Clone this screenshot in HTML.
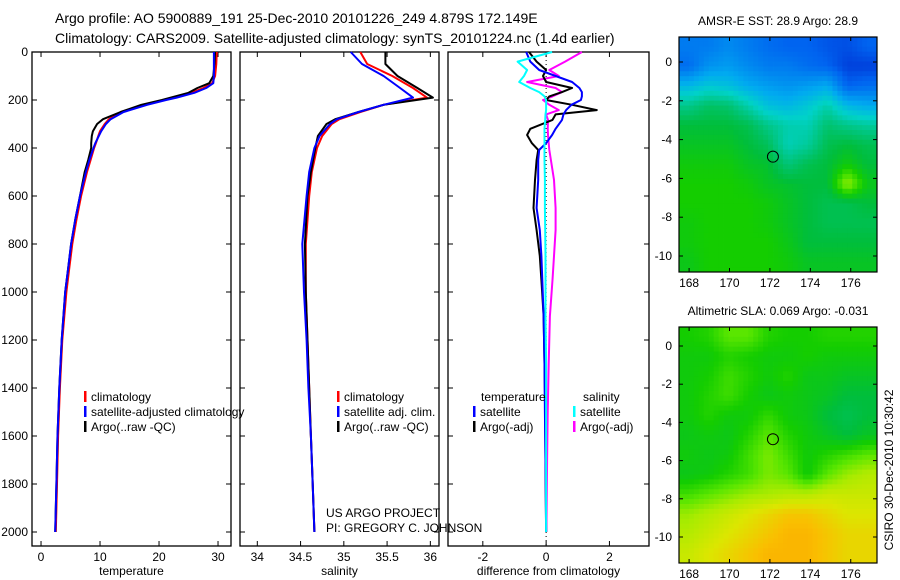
<!DOCTYPE html>
<html><head><meta charset="utf-8"><style>
body{margin:0;background:#fff}
svg{display:block;font-family:"Liberation Sans",sans-serif}
text{fill:#000}
</style></head><body>
<svg id="c" width="900" height="580" viewBox="0 0 900 580">
<text x="55" y="23" font-size="14">Argo profile: AO 5900889_191 25-Dec-2010 20101226_249 4.879S 172.149E</text>
<text x="55" y="43" font-size="14">Climatology: CARS2009. Satellite-adjusted climatology: synTS_20101224.nc (1.4d earlier)</text>
<text transform="translate(893,470) rotate(-90)" text-anchor="middle" font-size="12">CSIRO 30-Dec-2010 10:30:42</text>
<text x="326" y="517" font-size="12">US ARGO PROJECT</text>
<text x="326" y="532" font-size="12">PI: GREGORY C. JOHNSON</text>
</svg>
<script>
// depth levels
const depthT=[0,50,100,130,150,170,190,200,220,250,280,300,330,350,380,400,450,500,600,700,800,900,1000,1200,1400,1600,1800,2000];
const tempClim=[29.8,29.7,29.5,29.0,27.5,25.5,22.5,20.8,17.5,13.5,11.5,10.8,10.0,9.7,9.3,9.0,8.4,7.8,6.8,6.0,5.3,4.8,4.3,3.6,3.2,2.9,2.7,2.5];
const tempSat=[29.3,29.3,29.3,29.2,28.0,26.0,23.0,21.2,18.0,14.0,11.8,11.0,10.2,9.8,9.2,8.9,8.2,7.6,6.6,5.8,5.1,4.6,4.1,3.5,3.1,2.8,2.6,2.4];
const tempArgo=[29.5,29.4,29.2,28.5,26.5,25.0,22.0,20.5,17.0,13.5,10.5,9.5,8.8,8.6,8.5,8.5,8.0,7.4,6.6,5.8,5.1,4.6,4.1,3.5,3.1,2.8,2.6,2.4];
const depthS=[0,50,100,150,190,220,250,280,300,350,400,500,600,800,1000,1200,1400,1600,1800,2000];
const salClim=[35.19,35.27,35.56,35.8,35.96,35.46,35.19,34.95,34.86,34.75,34.69,34.63,34.6,34.56,34.56,34.58,34.6,34.62,34.64,34.66];
const salSat=[35.08,35.21,35.46,35.65,35.8,35.46,35.17,34.92,34.84,34.72,34.66,34.6,34.57,34.52,34.54,34.57,34.59,34.62,34.64,34.66];
const salArgo=[35.48,35.48,35.62,35.85,36.03,35.46,35.17,34.9,34.8,34.7,34.67,34.62,34.58,34.55,34.56,34.58,34.6,34.62,34.64,34.66];
const depthD=[0,40,75,100,125,150,167,185,200,220,242,260,283,320,346,380,408,450,533,650,742,850,950,1100,1300,1500,1700,2000];
const diffTSat=[-0.63,-0.5,-0.22,0.3,0.82,1.05,1.13,1.13,1.1,0.8,0.63,0.55,0.5,0.3,0.19,0.0,-0.22,-0.25,-0.25,-0.3,-0.2,-0.15,-0.12,-0.08,-0.05,-0.04,-0.02,0];
const diffTArgo=[-0.54,-0.3,0.0,-0.1,0.0,0.82,0.5,0.1,0.0,0.82,1.6,0.3,0.2,-0.5,-0.6,-0.45,-0.25,-0.3,-0.35,-0.4,-0.3,-0.2,-0.15,-0.08,-0.05,-0.03,-0.02,0];
const diffSSat=[0.19,-0.9,-0.6,-0.7,-0.85,-0.5,-0.22,-0.05,0.0,0.0,0.0,-0.02,-0.03,-0.05,-0.05,-0.05,-0.05,-0.05,-0.04,-0.04,-0.03,-0.02,-0.02,-0.02,0,0,0,0];
const diffSArgo=[1.13,0.6,0.1,0.4,-0.6,0.3,0.5,0.2,-0.1,0.1,0.4,0.0,0.06,0.05,0.06,0.08,0.1,0.15,0.25,0.3,0.3,0.25,0.2,0.12,0.08,0.05,0.03,0.01];
const tempTicks=[0,10,20,30];
const salTicks=[34,34.5,35,35.5,36];
const diffTicks=[-2,0,2];
const depthTicks=[0,200,400,600,800,1000,1200,1400,1600,1800,2000];
// map grids (normalized colour index), rows north->south, cols west->east
const sstGrid=[
[.25,.25,.28,.25,.22,.2,.2,.18,.17,.2],
[.22,.3,.32,.28,.25,.25,.22,.2,.15,.15],
[.38,.42,.4,.35,.32,.3,.32,.35,.2,.22],
[.52,.56,.55,.48,.4,.38,.42,.48,.38,.35],
[.6,.6,.6,.58,.52,.48,.47,.55,.52,.5],
[.62,.62,.62,.6,.57,.47,.5,.58,.6,.58],
[.64,.64,.64,.62,.61,.54,.58,.6,.64,.6],
[.65,.65,.65,.64,.62,.61,.6,.6,.74,.63],
[.65,.65,.65,.65,.64,.62,.6,.58,.58,.6],
[.64,.65,.65,.65,.64,.62,.6,.58,.58,.58],
[.64,.65,.65,.65,.65,.63,.6,.6,.6,.6],
[.63,.65,.65,.65,.65,.64,.62,.62,.62,.62]];
const slaGrid=[
[.65,.66,.7,.7,.66,.65,.65,.66,.66,.66],
[.64,.64,.66,.65,.64,.64,.65,.64,.64,.64],
[.64,.65,.68,.66,.64,.66,.63,.63,.62,.62],
[.64,.66,.68,.65,.63,.64,.63,.62,.6,.6],
[.64,.66,.64,.64,.67,.64,.63,.6,.58,.6],
[.63,.64,.63,.66,.7,.66,.64,.62,.6,.62],
[.64,.63,.64,.68,.72,.68,.64,.66,.68,.7],
[.63,.64,.66,.68,.72,.7,.64,.7,.74,.76],
[.68,.7,.72,.74,.75,.76,.76,.78,.78,.78],
[.74,.76,.78,.8,.82,.84,.84,.82,.8,.8],
[.76,.78,.8,.82,.84,.86,.86,.84,.82,.82],
[.78,.8,.82,.84,.86,.86,.86,.84,.82,.82]];
const lonTicks=[168,170,172,174,176];
const latTicks=[0,-2,-4,-6,-8,-10];
const argoLon=172.149, argoLat=-4.879;

const NS="http://www.w3.org/2000/svg";
const svg=document.getElementById('c');
function mk(tag,attrs,parent){const e=document.createElementNS(NS,tag);for(const k in attrs)e.setAttribute(k,attrs[k]);(parent||svg).appendChild(e);return e;}
const PT=52,PB=546;
const yD=d=>PT+d*0.24;
const panels=[
 {x0:32,x1:231,v0:-1.53,v1:32.2,ticks:tempTicks,label:'temperature',name:'temperature'},
 {x0:240,x1:439,v0:33.8,v1:36.1,ticks:salTicks,label:'salinity',name:'salinity'},
 {x0:448,x1:649,v0:-3.1,v1:3.25,ticks:diffTicks,label:'difference from climatology',name:'difference'}];
panels.forEach(p=>{p.sx=v=>p.x0+(v-p.v0)/(p.v1-p.v0)*(p.x1-p.x0);});
function line(p,depths,vals,color,w,name){
  const pts=depths.map((d,i)=>p.sx(vals[i]).toFixed(1)+','+yD(d).toFixed(1)).join(' ');
  const e=mk('polyline',{points:pts,fill:'none',stroke:color,'stroke-width':w,'stroke-linejoin':'round'});
  
  
}
panels.forEach((p,pi)=>{
  const g=mk('g',{});
  
  
  const r=mk('rect',{x:p.x0,y:PT,width:p.x1-p.x0,height:PB-PT,fill:'none',stroke:'#000','stroke-width':1.3},g);
  
  
  p.ticks.forEach(t=>{
    const x=p.sx(t);
    mk('line',{x1:x,x2:x,y1:PB,y2:PB-5,stroke:'#000'},g);
    mk('line',{x1:x,x2:x,y1:PT,y2:PT+5,stroke:'#000'},g);
    const tx=mk('text',{x:x,y:PB+15,'text-anchor':'middle','font-size':12},g);
    tx.textContent=String(t);
    
    
  });
  depthTicks.forEach(d=>{
    mk('line',{x1:p.x0,x2:p.x0+5,y1:yD(d),y2:yD(d),stroke:'#000'},g);
    mk('line',{x1:p.x1,x2:p.x1-5,y1:yD(d),y2:yD(d),stroke:'#000'},g);
    if(pi===0){const tx=mk('text',{x:p.x0-4,y:yD(d)+4,'text-anchor':'end','font-size':12},g);tx.textContent=String(d);
      
      }
  });
  const lb=mk('text',{x:(p.x0+p.x1)/2,y:575,'text-anchor':'middle','font-size':12},g);
  lb.textContent=p.label;
  
  
});
const [P1,P2,P3]=panels;
line(P1,depthT,tempClim,'#f00',2,'temp-climatology-line');
line(P1,depthT,tempArgo,'#000',2,'temp-argo-line');
line(P1,depthT,tempSat,'#00f',2,'temp-satellite-line');
line(P2,depthS,salClim,'#f00',2,'sal-climatology-line');
line(P2,depthS,salArgo,'#000',2,'sal-argo-line');
line(P2,depthS,salSat,'#00f',2,'sal-satellite-line');
const zl=mk('line',{x1:P3.sx(0),x2:P3.sx(0),y1:PT,y2:PB,stroke:'#000','stroke-dasharray':'1,3'});


line(P3,depthD,diffSArgo,'#f0f',2,'sal-argo-diff-line');
line(P3,depthD,diffTArgo,'#000',2,'temp-argo-diff-line');
line(P3,depthD,diffTSat,'#00f',2,'temp-satellite-diff-line');
line(P3,depthD,diffSSat,'#0ff',2,'sal-satellite-diff-line');
function legend(x,y,color,text,name){
  const m=mk('rect',{x:x,y:y-10,width:2.5,height:11,fill:color});
  
  
  const t=mk('text',{x:x+7,y:y,'font-size':12});t.textContent=text;
  
  
}
legend(84,401,'#f00','climatology','legend-climatology');
legend(84,416,'#00f','satellite-adjusted climatology','legend-satellite-adjusted');
legend(84,431,'#000','Argo(..raw -QC)','legend-argo-raw');
legend(337,401,'#f00','climatology','legend-sal-climatology');
legend(337,416,'#00f','satellite adj. clim.','legend-sal-satellite');
legend(337,431,'#000','Argo(..raw -QC)','legend-sal-argo');
const lt=mk('text',{x:481,y:401,'font-size':12});lt.textContent='temperature';


const ls=mk('text',{x:583,y:401,'font-size':12});ls.textContent='salinity';


legend(473,416,'#00f','satellite','legend-temp-satellite');
legend(473,431,'#000','Argo(-adj)','legend-temp-argo');
legend(573,416,'#0ff','satellite','legend-sal-satellite-diff');
legend(573,431,'#f0f','Argo(-adj)','legend-sal-argo-diff');

// colormap
const cmStops=[[0,[0,0,140]],[.1,[0,30,200]],[.2,[0,100,240]],[.35,[0,170,240]],[.45,[0,210,200]],[.55,[0,195,110]],[.6,[0,190,60]],[.65,[20,205,0]],[.7,[90,230,0]],[.75,[170,235,0]],[.8,[220,230,0]],[.85,[250,190,0]],[.9,[250,150,0]],[1,[240,90,0]]];
function cmap(v){for(let i=1;i<cmStops.length;i++){if(v<=cmStops[i][0]){const a=cmStops[i-1],b=cmStops[i];const t=(v-a[0])/(b[0]-a[0]);const c=a[1].map((x,k)=>Math.round(x+(b[1][k]-x)*t));return 'rgb('+c.join(',')+')';}}return 'rgb(240,90,0)';}
function sample(grid,fr,fc){ // bilinear display interpolation
  const rows=grid.length,cols=grid[0].length;
  const r=Math.max(0,Math.min(rows-1,fr)),c=Math.max(0,Math.min(cols-1,fc));
  const r0=Math.floor(r),c0=Math.floor(c),r1=Math.min(rows-1,r0+1),c1=Math.min(cols-1,c0+1);
  const tr=r-r0,tc=c-c0;
  return grid[r0][c0]*(1-tr)*(1-tc)+grid[r0][c1]*(1-tr)*tc+grid[r1][c0]*tr*(1-tc)+grid[r1][c1]*tr*tc;
}
function drawMap(top,bot,grid,title,name,lat0y,lat10y){
  const L=679,R=877;
  const lon0=167.5,lon1=177.3;
  const sy=lat=>lat0y+(lat/-10)*(lat10y-lat0y);
  const sx=lon=>L+(lon-lon0)/(lon1-lon0)*(R-L);
  const g=mk('g',{});
  
  
  const rows=grid.length,cols=grid[0].length,sub=4;
  const cw=(R-L)/(cols*sub),ch=(bot-top)/(rows*sub);
  for(let i=0;i<rows*sub;i++)for(let j=0;j<cols*sub;j++){
    const v=sample(grid,(i+0.5)/sub-0.5,(j+0.5)/sub-0.5);
    const c=mk('rect',{x:(L+j*cw).toFixed(2),y:(top+i*ch).toFixed(2),width:(cw+0.4).toFixed(2),height:(ch+0.4).toFixed(2),fill:cmap(v)},g);
    
    
  }
  mk('rect',{x:L,y:top,width:R-L,height:bot-top,fill:'none',stroke:'#000','stroke-width':1.2},g);
  lonTicks.forEach(t=>{const x=sx(t);mk('line',{x1:x,x2:x,y1:bot,y2:bot-4,stroke:'#000'},g);mk('line',{x1:x,x2:x,y1:top,y2:top+4,stroke:'#000'},g);
    const tx=mk('text',{x:x,y:bot+15,'text-anchor':'middle','font-size':12},g);tx.textContent=String(t);
    
    });
  latTicks.forEach(t=>{const y=sy(t);mk('line',{x1:L,x2:L+4,y1:y,y2:y,stroke:'#000'},g);mk('line',{x1:R,x2:R-4,y1:y,y2:y,stroke:'#000'},g);
    const tx=mk('text',{x:L-7,y:y+4,'text-anchor':'end','font-size':12},g);tx.textContent=String(t);
    
    });
  const ci=mk('circle',{cx:sx(argoLon),cy:sy(argoLat),r:5.5,fill:'none',stroke:'#000','stroke-width':1},g);
  
  
  const tt=mk('text',{x:(L+R)/2,y:top-12,'text-anchor':'middle','font-size':12},g);tt.textContent=title;
  
  
}
drawMap(37,272,sstGrid,'AMSR-E SST: 28.9 Argo: 28.9','sst-map',62,256);
drawMap(327,563,slaGrid,'Altimetric SLA: 0.069 Argo: -0.031','sla-map',346,537);
</script>
</body></html>
